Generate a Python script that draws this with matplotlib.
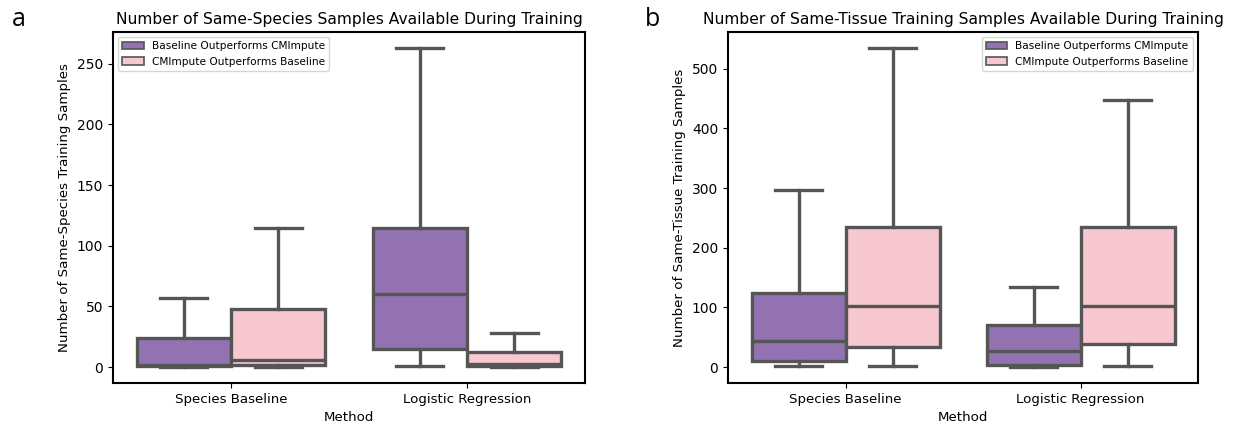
import colorsys
import matplotlib
matplotlib.use("Agg")
import matplotlib.pyplot as plt
import matplotlib.colors as mcolors
from matplotlib.patches import Patch

methods = ["Species Baseline", "Logistic Regression"]
groups = ["Baseline Outperforms CMImpute", "CMImpute Outperforms Baseline"]

# Five-number summaries per method: [whislo, q1, median, q3, whishi]
species_baseline_wins = [[0, 0.5, 2, 24, 57], [1, 15, 60, 115, 263]]
species_cmimpute_wins = [[0, 1.5, 5.5, 48, 115], [0, 1, 2.5, 12, 28]]
tissue_baseline_wins = [[1, 9.5, 43, 124, 296], [0, 3.5, 27, 70, 135]]
tissue_cmimpute_wins = [[1, 33.5, 102, 235, 535], [1, 39, 103, 235, 448]]

titles = ["Number of Same-Species Samples Available During Training",
          "Number of Same-Tissue Training Samples Available During Training"]
ylabels = ["Number of Same-Species Training Samples",
           "Number of Same-Tissue Training Samples"]
panel_letters = ["a", "b"]


def desaturate(color, prop=0.75):
    r, g, b = mcolors.to_rgb(color)
    h, l, s = colorsys.rgb_to_hls(r, g, b)
    return colorsys.hls_to_rgb(h, l, s * prop)


colors = [desaturate("tab:purple"), desaturate("pink")]
line_gray = "#555555"
lw = 2.4


def stats_from(summary):
    lo, q1, med, q3, hi = summary
    return dict(whislo=lo, q1=q1, med=med, q3=q3, whishi=hi, fliers=[])


fig = plt.figure(figsize=(12.36, 4.25), dpi=100)
ax_a = fig.add_axes([0.0914, 0.0988, 0.3819, 0.826])
ax_b = fig.add_axes([0.589, 0.0988, 0.3803, 0.826])

panels = [
    (ax_a, [species_baseline_wins, species_cmimpute_wins], "upper left"),
    (ax_b, [tissue_baseline_wins, tissue_cmimpute_wins], "upper right"),
]

for i, (ax, data, loc) in enumerate(panels):
    offsets = [-0.2, 0.2]
    all_vals = []
    for g, (series, off) in enumerate(zip(data, offsets)):
        stats = [stats_from(s) for s in series]
        all_vals += [v for s in series for v in s]
        positions = [k + off for k in range(len(methods))]
        ax.bxp(stats, positions=positions, widths=0.4, patch_artist=True,
               showfliers=False, manage_ticks=False,
               boxprops=dict(facecolor=colors[g], edgecolor=line_gray, linewidth=lw),
               medianprops=dict(color=line_gray, linewidth=lw),
               whiskerprops=dict(color=line_gray, linewidth=lw),
               capprops=dict(color=line_gray, linewidth=lw))
    lo, hi = min(all_vals), max(all_vals)
    pad = 0.05 * (hi - lo)
    ax.set_ylim(lo - pad, hi + pad)
    ax.set_xlim(-0.5, 1.5)
    ax.set_xticks(range(len(methods)))
    ax.set_xticklabels(methods, fontsize=9.6)
    ax.tick_params(axis="y", labelsize=10)
    ax.set_xlabel("Method", fontsize=9.6)
    ax.set_ylabel(ylabels[i], fontsize=9.6)
    ax.set_title(titles[i], fontsize=11.2)
    for sp in ax.spines.values():
        sp.set_linewidth(1.5)
    handles = [Patch(facecolor=colors[g], edgecolor=line_gray, linewidth=1.2,
                     label=groups[g]) for g in range(2)]
    ax.legend(handles=handles, loc=loc, fontsize=7.6)

fig.text(0.0095, 0.955, panel_letters[0], fontsize=18, family="Open Sans", va="center")
fig.text(0.522, 0.955, panel_letters[1], fontsize=18, family="Open Sans", va="center")

fig.savefig("out.png", dpi=100)
